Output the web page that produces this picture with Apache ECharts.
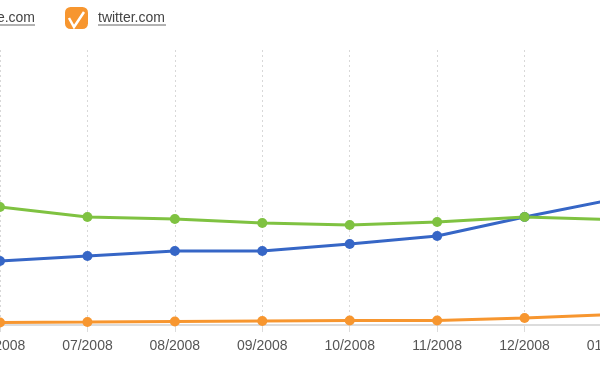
<!DOCTYPE html>
<html>
<head>
<meta charset="utf-8">
<script src="https://cdn.jsdelivr.net/npm/echarts@6/dist/echarts.min.js"></script>
<style>html,body{margin:0;padding:0;background:#fff}#c{width:600px;height:372px}</style>
</head>
<body>
<div id="c"></div>
<script>
// Monthly unique visitors (millions)
var months = ['06/2008','07/2008','08/2008','09/2008','10/2008','11/2008','12/2008','01/2009'];
var facebook = [34.9, 37.6, 40.4, 40.4, 44.2, 48.5, 58.9, 68.4];
var myspace  = [64.4, 58.9, 57.8, 55.6, 54.5, 56.2, 58.9, 57.5];
var twitter  = [1.4, 1.6, 1.9, 2.2, 2.5, 2.5, 3.8, 5.7];

var chart = echarts.init(document.getElementById('c'));
var font = 'Arial, "Liberation Sans", Helvetica, sans-serif';
function ser(name, data, color) {
  return {
    name: name, type: 'line', data: data,
    symbol: 'circle', symbolSize: 10,
    lineStyle: {color: color, width: 3},
    itemStyle: {color: color},
    emphasis: {disabled: true},
    animation: false
  };
}
chart.setOption({
  animation: false,
  grid: {left: 0, right: -12, top: 50, bottom: 47, containLabel: false, outerBoundsMode: 'none'},
  legend: [{
    data: ['myspace.com'],
    right: 565, top: 7, padding: 0, width: 300,
    icon: 'roundRect', itemWidth: 23, itemHeight: 22,
    textStyle: {color: '#444', fontSize: 14, fontFamily: font, padding: [0,0,0,5]}
  }, {
    data: ['twitter.com'],
    left: 65, top: 7, padding: 0,
    icon: 'roundRect', itemWidth: 23, itemHeight: 22,
    textStyle: {color: '#444', fontSize: 14, fontFamily: font, padding: [0,0,0,5]}
  }],
  xAxis: {
    type: 'category', data: months, boundaryGap: false,
    axisLine: {lineStyle: {color: '#dcdcdc', width: 2}},
    axisTick: {show: true, length: 7, lineStyle: {color: '#dcdcdc'}},
    splitLine: {show: true, lineStyle: {color: '#d8d8d8', type: [2, 3], width: 1}},
    axisLabel: {color: '#555', fontSize: 14, fontFamily: font, margin: 14, showMinLabel: true, showMaxLabel: true}
  },
  yAxis: {
    type: 'value', min: 0, max: 150,
    show: false, splitLine: {show: false}
  },
  series: [
    ser('facebook.com', facebook, '#3666c6'),
    ser('myspace.com', myspace, '#7fc241'),
    ser('twitter.com', twitter, '#f7962f')
  ],
  graphic: [
    {type: 'polyline', shape: {points: [[69,18],[74,27],[84,12]]},
     style: {stroke: '#fff', lineWidth: 2.5, fill: null}, z: 100},
    {type: 'line', shape: {x1: 98, y1: 25, x2: 166, y2: 25},
     style: {stroke: '#666', lineWidth: 1}, z: 100},
    {type: 'line', shape: {x1: 0, y1: 25, x2: 35, y2: 25},
     style: {stroke: '#666', lineWidth: 1}, z: 100}
  ]
});
</script>
</body>
</html>
